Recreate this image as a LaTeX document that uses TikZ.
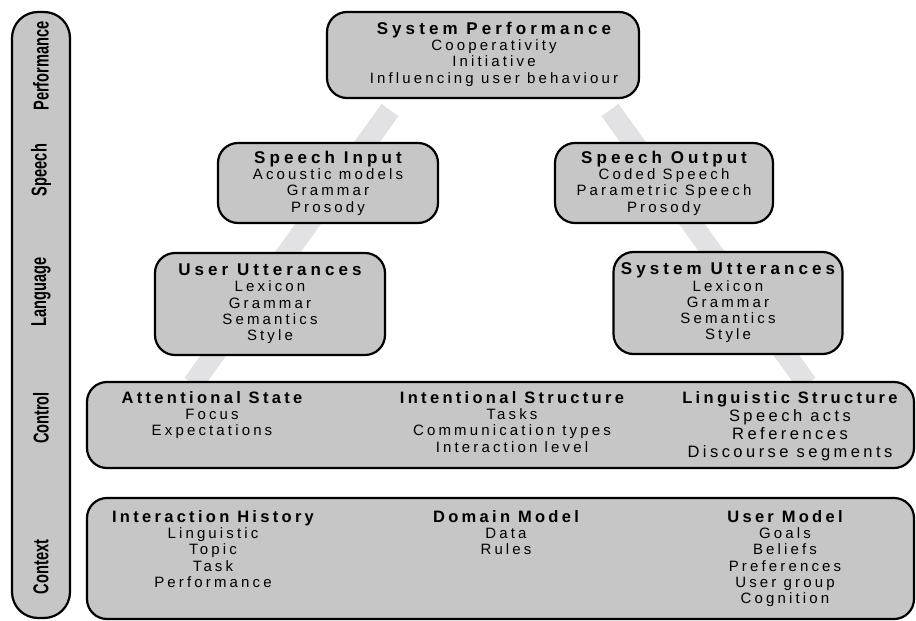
\documentclass[tikz,border=0pt]{standalone}
\usepackage{fontspec}
\setmainfont{Liberation Sans}
\newfontfamily\boxfont{Liberation Sans}[LetterSpace=21]
\newfontfamily\titlefont{Liberation Sans}[LetterSpace=24]
\newfontfamily\rowtitlefont{Liberation Sans}[LetterSpace=20]
\newfontfamily\sidefont{Liberation Sans}[FakeStretch=0.68]
\newcommand\ttl[1]{{\titlefont\bfseries\fontsize{17}{16.5}\selectfont #1}}
\newcommand\rttl[1]{{\rowtitlefont\bfseries\fontsize{16.5}{16.5}\selectfont #1}}
\definecolor{boxgray}{RGB}{198,198,198}
\definecolor{stripegray}{RGB}{226,226,228}
\begin{document}
\begin{tikzpicture}[x=1pt,y=-1pt,
  box/.style={draw=black, line width=2.2pt, fill=boxgray, rounded corners=20pt, inner sep=0pt,
    font=\boxfont\fontsize{15}{16.3}\selectfont, align=center},
  coltxt/.style={inner sep=0pt, align=center, font=\boxfont\fontsize{15}{16.3}\selectfont},
  bigtxt/.style={inner sep=0pt, align=center, font=\boxfont\fontsize{16.5}{18}\selectfont},
  sidelbl/.style={inner sep=0pt, rotate=90, font=\sidefont\bfseries\fontsize{21.5}{21.5}\selectfont},
  stripe/.style={draw=stripegray, line width=21pt, line cap=butt}]
\useasboundingbox (0,0) rectangle (916,621);
% background stripes
\coordinate (s1a) at (390,110);
\coordinate (s1b) at (193,384);
\coordinate (s2a) at (610,110);
\coordinate (s2b) at (807,384);
\draw[stripe] (s1a) -- (s1b);
\draw[stripe] (s2a) -- (s2b);
% sidebar
\node[box, rounded corners=26pt, minimum width=58pt, minimum height=606pt] (side) at (41,315) {};
\node[sidelbl] (lperf) at (41,66) {Performance};
\node[sidelbl] (lspeech) at (41,170) {Speech};
\node[sidelbl] (llang) at (41,292) {Language};
\node[sidelbl] (lctrl) at (41,418) {Control};
\node[sidelbl] (lctx) at (41,567) {Context};
% upper boxes
\node[box, minimum width=312pt, minimum height=86pt] (sysperf) at (483,55) {};
\node[coltxt] (sysperftxt) at (494,54)
  {\ttl{System Performance}\\Cooperativity\\Initiative\\Influencing user behaviour};
\node[box, minimum width=220pt, minimum height=80pt] (spin) at (328,183)
  {\ttl{Speech Input}\\Acoustic models\\Grammar\\Prosody};
\node[box, minimum width=218pt, minimum height=80pt] (spout) at (664,183)
  {\ttl{Speech Output}\\Coded Speech\\Parametric Speech\\Prosody};
\node[box, minimum width=230pt, minimum height=102pt] (uutt) at (270,304)
  {\ttl{User Utterances}\\Lexicon\\Grammar\\Semantics\\Style};
\node[box, minimum width=229pt, minimum height=102pt] (sutt) at (728,303)
  {\ttl{System Utterances}\\Lexicon\\Grammar\\Semantics\\Style};
% control row
\node[box, minimum width=827pt, minimum height=86pt] (control) at (500.5,425) {};
\node[coltxt, anchor=north] (attn) at (212,391) {\rttl{Attentional State}\\Focus\\Expectations};
\node[coltxt, anchor=north] (intent) at (512,391) {\rttl{Intentional Structure}\\Tasks\\Communication types\\Interaction level};
\node[bigtxt, anchor=north] (ling) at (790,391) {\rttl{Linguistic Structure}\\Speech acts\\References\\Discourse segments};
% context row
\node[box, minimum width=827pt, minimum height=121pt] (context) at (500.5,558.5) {};
\node[coltxt, anchor=north] (hist) at (213,510) {\rttl{Interaction History}\\Linguistic\\Topic\\Task\\Performance};
\node[coltxt, anchor=north] (dom) at (506,510) {\rttl{Domain Model}\\Data\\Rules};
\node[coltxt, anchor=north] (um) at (785,510) {\rttl{User Model}\\Goals\\Beliefs\\Preferences\\User group\\Cognition};
\end{tikzpicture}
\end{document}
